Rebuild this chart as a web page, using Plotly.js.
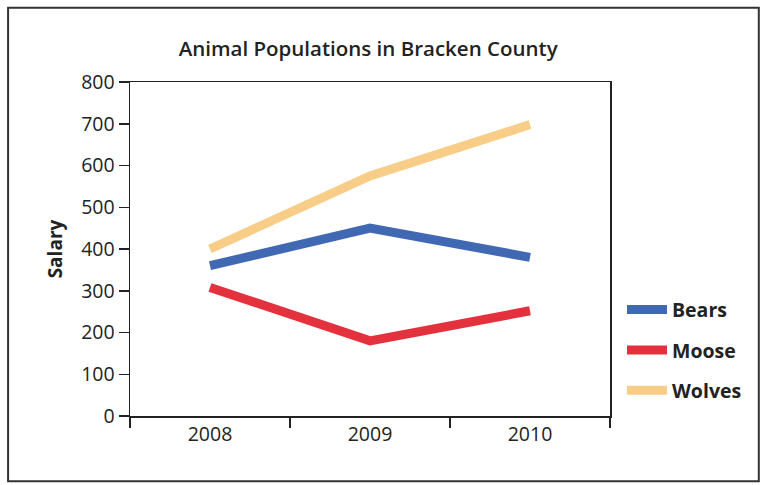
<!DOCTYPE html>
<html>
<head>
<meta charset="utf-8">
<script src="https://cdn.plot.ly/plotly-3.0.1.min.js"></script>
<style>html,body{margin:0;padding:0;background:#fff;}#chart{width:767px;height:485px;}</style>
</head>
<body>
<div id="chart"></div>
<script>
const years = ["2008", "2009", "2010"];
const bears = [360, 450, 380];
const moose = [308, 180, 252];
const wolves = [400, 575, 698];
const seriesNames = ["Bears", "Moose", "Wolves"];
const seriesColors = ["#4169b3", "#e3323e", "#f7cd87"];
const yTicks = [0, 100, 200, 300, 400, 500, 600, 700, 800];

const seriesValues = [bears, moose, wolves];
const traces = seriesValues.map((vals, i) => ({
  type: "scatter",
  mode: "lines",
  x: years,
  y: vals,
  name: seriesNames[i],
  legendgroup: "g" + i,
  line: {color: seriesColors[i], width: 9}
}));

const layout = {
  width: 767,
  height: 485,
  margin: {l: 130, r: 157, t: 82, b: 69},
  paper_bgcolor: "#ffffff",
  plot_bgcolor: "#ffffff",
  font: {family: "Open Sans, sans-serif", color: "#222", size: 19},
  title: {
    text: "Animal Populations in Bracken County",
    font: {family: "Open Sans, sans-serif", size: 20.5, weight: 600, color: "#222"},
    x: 0.48, xanchor: "center", y: 0.9, yanchor: "middle"
  },
  xaxis: {
    type: "category",
    range: [-0.5, 2.5],
    tickson: "boundaries",
    ticks: "outside",
    ticklen: 10,
    tickwidth: 1.5,
    tickcolor: "#222",
    showline: true,
    linecolor: "#222",
    linewidth: 1.5,
    mirror: true,
    showgrid: false,
    zeroline: false,
    tickfont: {size: 19.5, color: "#222"},
    fixedrange: true
  },
  yaxis: {
    range: [0, 800],
    tickvals: yTicks,
    ticks: "outside",
    ticklen: 10,
    tickwidth: 1.5,
    tickcolor: "#222",
    showline: true,
    linecolor: "#222",
    linewidth: 1.5,
    mirror: true,
    showgrid: false,
    zeroline: false,
    tickfont: {size: 19.5, color: "#222"},
    title: {text: "Salary", font: {size: 19, weight: 700, color: "#222"}, standoff: 13},
    fixedrange: true
  },
  showlegend: true,
  legend: {
    x: 1.025, xanchor: "left",
    y: 0.376, yanchor: "top",
    traceorder: "grouped",
    tracegroupgap: 12,
    itemwidth: 40,
    font: {size: 19.5, weight: 700, color: "#222"},
    bgcolor: "rgba(0,0,0,0)"
  },
  shapes: [{
    type: "rect", xref: "paper", yref: "paper",
    x0: -0.254, x1: 1.31, y0: -0.195, y1: 1.222,
    line: {color: "#333", width: 2}
  }]
};

Plotly.newPlot("chart", traces, layout, {displayModeBar: false, staticPlot: true});
</script>
</body>
</html>
